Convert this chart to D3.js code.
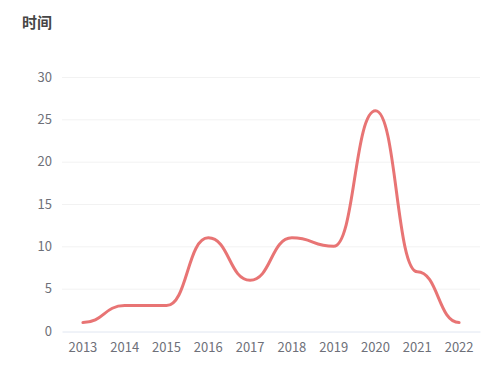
<!DOCTYPE html>
<html>
<head>
<meta charset="utf-8">
<script src="https://cdn.jsdelivr.net/npm/d3@7"></script>
<style>
  body { margin: 0; background: #fff; }
  text { font-family: "Noto Sans CJK SC", "Microsoft YaHei", sans-serif; }
</style>
</head>
<body>
<svg id="chart" width="502" height="376"></svg>
<script>
var years = ["2013","2014","2015","2016","2017","2018","2019","2020","2021","2022"];
var counts = [1, 3, 3, 11, 6, 11, 10, 26, 7, 1];
var yTicks = [0, 5, 10, 15, 20, 25, 30];

var svg = d3.select("#chart");
var gLeft = 62, gRight = 480, gTop = 77, gBottom = 331;

var x = d3.scaleBand().domain(years).range([gLeft, gRight]);
var y = d3.scaleLinear().domain([0, 30]).range([gBottom, gTop]);

// title
svg.append("text")
  .attr("x", 22).attr("y", 28)
  .attr("font-size", 15).attr("font-weight", "bold")
  .attr("fill", "#464646")
  .text("时间");

// grid lines
svg.append("g").selectAll("line")
  .data(yTicks.filter(function(d){ return d > 0; }))
  .enter().append("line")
  .attr("x1", gLeft).attr("x2", gRight)
  .attr("y1", function(d){ return y(d) + 0.5; })
  .attr("y2", function(d){ return y(d) + 0.5; })
  .attr("stroke", "#f2f2f2").attr("stroke-width", 1);

// y labels
svg.append("g").selectAll("text")
  .data(yTicks)
  .enter().append("text")
  .attr("x", 52).attr("y", function(d){ return y(d); })
  .attr("dy", "0.35em")
  .attr("text-anchor", "end")
  .attr("font-size", 13).attr("fill", "#6e7079")
  .text(function(d){ return d; });

// x axis
var xAxis = svg.append("g")
  .attr("transform", "translate(0," + (gBottom + 0.5) + ")")
  .call(d3.axisBottom(x).tickSize(0).tickPadding(11));
xAxis.select(".domain").attr("stroke", "#e0e6f1");
xAxis.selectAll("text")
  .attr("font-size", 13).attr("fill", "#6e7079")
  .attr("font-family", "\"Noto Sans CJK SC\", sans-serif");

// line (smooth, flat tangent at each point)
var line = d3.line()
  .x(function(d, i){ return x(years[i]) + x.bandwidth() / 2; })
  .y(function(d){ return y(d); })
  .curve(d3.curveBumpX);

svg.append("path")
  .datum(counts)
  .attr("d", line)
  .attr("fill", "none")
  .attr("stroke", "#e87474")
  .attr("stroke-width", 3)
  .attr("stroke-linecap", "round")
  .attr("stroke-linejoin", "round");
</script>
</body>
</html>
